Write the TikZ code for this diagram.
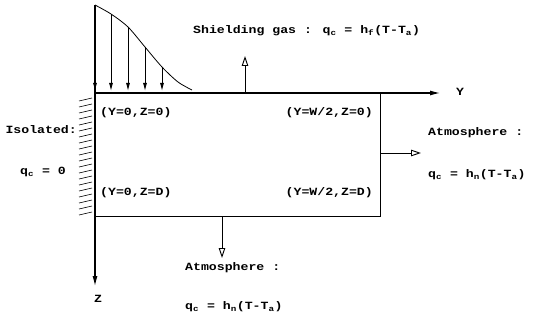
\documentclass[tikz,border=0pt]{standalone}
\usepackage{fontspec}
\setmainfont{Liberation Mono}[FakeStretch=1.2]
\usetikzlibrary{arrows.meta}
\begin{document}
\begin{tikzpicture}[x=1pt,y=-1pt,
  lbl/.style={font=\fontsize{11}{12}\selectfont\bfseries, inner sep=0pt},
  edge/.style={line width=0.9pt},
  axisline/.style={line width=1.1pt},
  heat/.style={line width=0.9pt,-{Latex[length=8pt,width=4pt]}},
  flux/.style={line width=0.9pt,-{Triangle[open,length=10pt,width=6.5pt]}},
  hatch/.style={line width=0.6pt}]
\useasboundingbox (0,0) rectangle (537,331);
% corners
\coordinate (O) at (95,93);
\coordinate (TR) at (380,93);
\coordinate (BR) at (380,216);
\coordinate (BL) at (95,216);
\coordinate (Yend) at (440,93);
\coordinate (Ztop) at (95,5);
\coordinate (Zend) at (95,286);
% axes
\draw[axisline,-{Latex[length=10pt,width=5pt]}] (O) -- (Yend);
\draw[axisline,-{Latex[length=10pt,width=5pt]}] (Ztop) -- (Zend);
\node[lbl] (Ylab) at (460,92) {Y};
\node[lbl] (Zlab) at (98,299) {Z};
% box
\draw[edge] (TR) -- (BR) -- (BL);
% heat input distribution
\draw[line width=0.8pt] plot[smooth] coordinates {(95,5) (111,14) (128,27) (145,47) (162,67) (178,82) (192,90)};
\foreach \x/\y in {95/5,111/14,128/27,145/47,162/67}{
  \coordinate (hs\x) at (\x,\y);
  \coordinate (he\x) at (\x,91);
  \draw[heat] (hs\x) -- (he\x);
}
% shielding gas
\coordinate (sg0) at (245,93);
\coordinate (sg1) at (245,56);
\draw[flux] (sg0) -- (sg1);
\node[lbl,anchor=west] (sgtxt) at (193,31) {Shielding gas : q\textsubscript{c} = h\textsubscript{f}(T-T\textsubscript{a})};
% right atmosphere
\coordinate (ra0) at (380,153);
\coordinate (ra1) at (421,153);
\draw[flux] (ra0) -- (ra1);
\node[lbl,anchor=west] (ratxt1) at (428,133) {Atmosphere :};
\node[lbl,anchor=west] (ratxt2) at (428,175) {q\textsubscript{c} = h\textsubscript{n}(T-T\textsubscript{a})};
% bottom atmosphere
\coordinate (ba0) at (222,216);
\coordinate (ba1) at (222,258);
\draw[flux] (ba0) -- (ba1);
\node[lbl,anchor=west] (batxt1) at (185,268) {Atmosphere :};
\node[lbl,anchor=west] (batxt2) at (185,307) {q\textsubscript{c} = h\textsubscript{n}(T-T\textsubscript{a})};
% corner labels
\node[lbl,anchor=west] (c1) at (100,113) {(Y=0,Z=0)};
\node[lbl,anchor=east] (c2) at (373,113) {(Y=W/2,Z=0)};
\node[lbl,anchor=west] (c3) at (100,193) {(Y=0,Z=D)};
\node[lbl,anchor=east] (c4) at (373,193) {(Y=W/2,Z=D)};
% isolated
\node[lbl,anchor=east] (iso) at (77,130) {Isolated:};
\node[lbl,anchor=east] (iso2) at (66,172) {q\textsubscript{c} = 0};
\foreach \k in {0,...,19}{
  \draw[hatch] (79,{101+6*\k}) -- (92,{98+6*\k});
}
\end{tikzpicture}
\end{document}
